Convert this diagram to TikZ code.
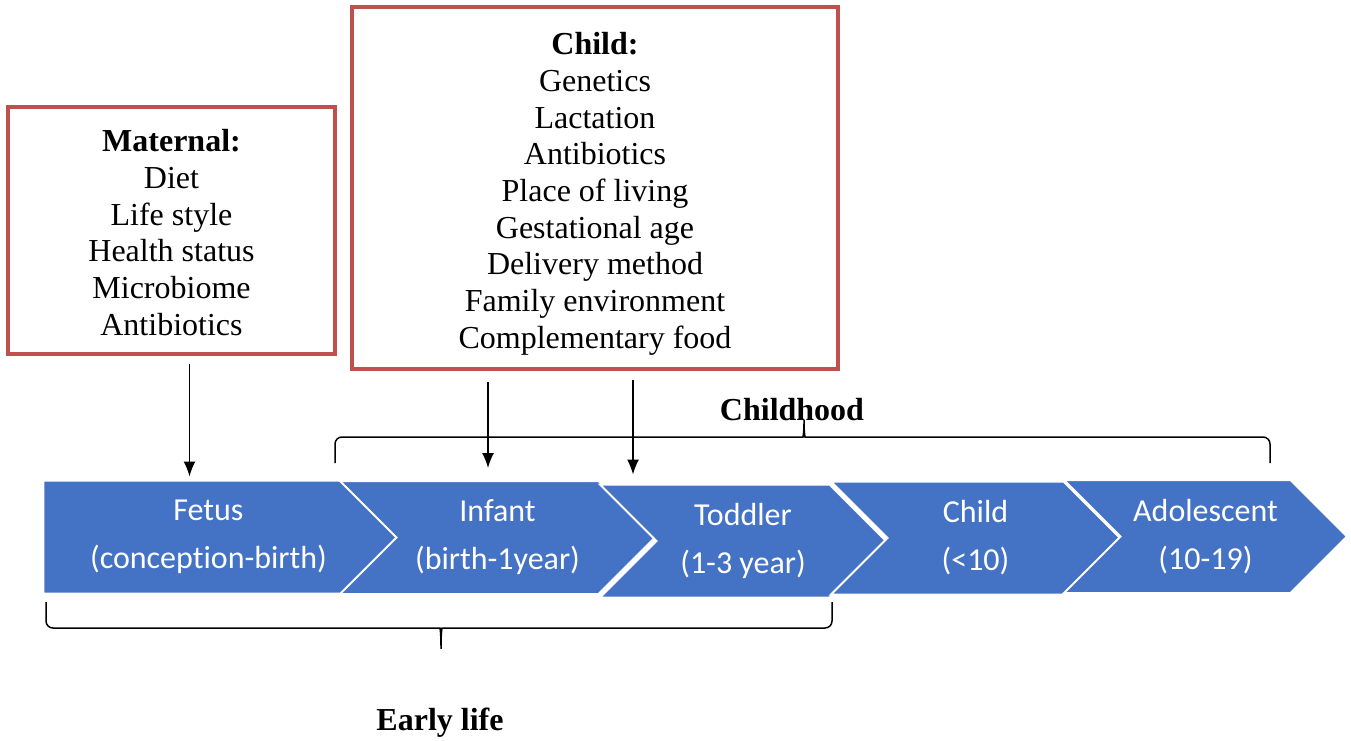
\documentclass[tikz,border=0pt]{standalone}
\usepackage{fontspec}
\setmainfont[Ligatures=NoCommon]{Liberation Serif}
\newfontfamily\calibri[Ligatures=NoCommon]{Carlito}
\usepackage{tikz}
\usetikzlibrary{shapes,arrows.meta}
\definecolor{boxred}{HTML}{C0504D}
\definecolor{stageblue}{HTML}{4472C4}

\begin{document}
\begin{tikzpicture}[x=1pt,y=-1pt,
    block_factor/.style ={rectangle, draw=boxred, line width=4pt, fill=white,
      align=center, inner sep=0pt, font=\fontsize{32}{36.7}\selectfont},
    block_stage/.style ={signal, signal to=east, draw=white, line width=2pt,
      fill=stageblue, text=white, align=center, minimum height=113pt,
      inner sep=0pt, font=\calibri\fontsize{32}{48}\selectfont},
    block_next/.style ={block_stage, signal from=west},
    block_noborder/.style ={draw=none, inner sep=0pt,
      font=\bfseries\fontsize{32}{36.7}\selectfont},
    line/.style ={draw, line width=1.5pt, -{Latex[length=15pt,width=12pt]}},
    brace_line/.style ={draw, line width=1.5pt, rounded corners=7pt}]
  \useasboundingbox (0,0) rectangle (1351,740);
  % influencing factors
  \node [block_factor, minimum width=327pt, minimum height=247pt] (maternal) at (171.5,230.5)
    {\rule{0pt}{26pt}\textbf{Maternal:}\\Diet\\Life style\\Health status\\Microbiome\\Antibiotics};
  \node [block_factor, minimum width=486pt, minimum height=362pt] (child) at (595,188)
    {\rule{0pt}{34pt}\textbf{Child:}\\Genetics\\Lactation\\Antibiotics\\Place of living\\Gestational age\\
     Delivery method\\Family environment\\Complementary food};
  % life stages
  \node [block_stage, minimum width=387pt] (fetus) at (208.5,537) {Fetus\\(conception-birth)};
  \node [block_next, minimum width=315pt] (infant) at (497.5,537.5) {Infant\\(birth-1year)};
  \node [block_next, minimum width=286pt] (toddler) at (743,541) {Toddler\\(1-3 year)};
  \node [block_next, minimum width=289pt] (child_stage) at (975.5,538) {Child\\(<10)};
  \node [block_next, minimum width=283pt] (adolescent) at (1205.5,536.5) {Adolescent\\(10-19)};
  % periods
  \node [block_noborder, anchor=base] (childhood) at (792,420) {Childhood};
  \node [block_noborder, anchor=base] (early_life) at (440,730) {Early life};
  \path [brace_line] (335,463) -- (335,437) -- (796,437)
    .. controls (803,437) and (804,432) .. (804,416)
    .. controls (804,432) and (805,437) .. (812,437) -- (1270,437) -- (1270,463);
  \path [brace_line] (46,602) -- (46,628) -- (433,628)
    .. controls (440,628) and (441,633) .. (441,653)
    .. controls (441,633) and (442,628) .. (449,628) -- (832,628) -- (832,602);
  % connecting factors with stages
  \begin{scope}[every path/.style=line]
    \path [shorten <=8pt, shorten >=3pt] ([xshift=18pt]maternal.south) -- ([xshift=18pt]maternal.south |- fetus.north);
    \path [shorten <=11pt, shorten >=12pt] ([xshift=-107pt]child.south) -- ([xshift=-107pt]child.south |- infant.north);
    \path [shorten <=9pt, shorten >=9pt] ([xshift=38pt]child.south) -- ([xshift=38pt]child.south |- toddler.north);
  \end{scope}
\end{tikzpicture}
\end{document}
